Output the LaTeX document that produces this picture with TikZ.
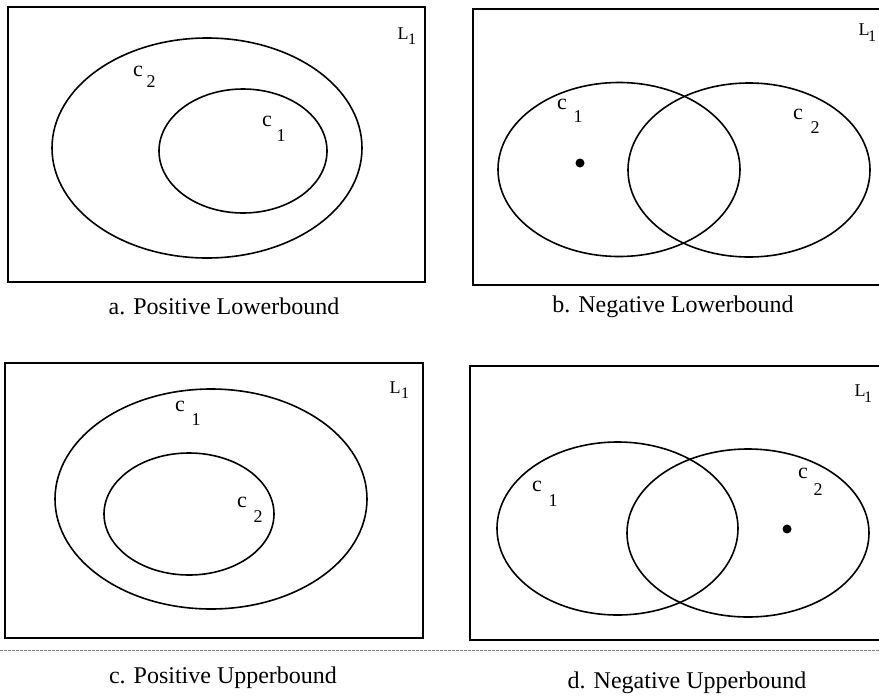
\documentclass[tikz,border=0pt]{standalone}
\usepackage{fontspec}
\setmainfont{Liberation Serif}
\begin{document}
\begin{tikzpicture}[x=1pt,y=-1pt,
  boxframe/.style={line width=1.9pt},
  setline/.style={line width=1.6pt},
  lab/.style={inner sep=0pt,font=\fontsize{22}{22}\selectfont},
  subn/.style={inner sep=0pt,font=\fontsize{18}{18}\selectfont},
  lbig/.style={inner sep=0pt,font=\fontsize{18}{18}\selectfont},
  lsub/.style={inner sep=0pt,font=\fontsize{16}{16}\selectfont},
  captxt/.style={inner sep=0pt,font=\fontsize{24}{24}\selectfont},
  dotmark/.style={fill,circle,inner sep=0pt,minimum size=9pt}]
\useasboundingbox (0,0) rectangle (879,697);
\clip (0,0) rectangle (879,697);
% panel a
\draw[boxframe] (8,7) rectangle (425,282);
\draw[setline] (207,148) ellipse [x radius=155, y radius=110];
\draw[setline] (243,151) ellipse [x radius=84, y radius=62];
\node[lab] (a2c) at (138,71) {c};
\node[subn] (a2n) at (151,82) {2};
\node[lab] (a1c) at (267,121) {c};
\node[subn] (a1n) at (281,136) {1};
\node[lbig] (aL) at (403,34) {L};
\node[lsub] (aLn) at (412,39) {1};
\node[captxt] (capa) at (224,306) {a. Positive Lowerbound};
% panel b
\draw[boxframe] (473,9) rectangle (900,285);
\draw[setline] (619,169.5) ellipse [x radius=121, y radius=87];
\draw[setline] (749,170) ellipse [x radius=121, y radius=87];
\node[dotmark] (bdot) at (580,163) {};
\node[lab] (b1c) at (562,104) {c};
\node[subn] (b1n) at (578,117) {1};
\node[lab] (b2c) at (798,114) {c};
\node[subn] (b2n) at (815,128) {2};
\node[lbig] (bL) at (864,30) {L};
\node[lsub] (bLn) at (872,36) {1};
\node[captxt] (capb) at (673,307) {b. Negative Lowerbound};
% panel c
\draw[boxframe] (5,363) rectangle (423,638);
\draw[setline] (211,499) ellipse [x radius=156, y radius=110];
\draw[setline] (189,514) ellipse [x radius=85, y radius=61];
\node[lab] (c1c) at (180,406) {c};
\node[subn] (c1n) at (196,420) {1};
\node[lab] (c2c) at (242,502) {c};
\node[subn] (c2n) at (258,517) {2};
\node[lbig] (cL) at (395,388) {L};
\node[lsub] (cLn) at (405,393) {1};
% panel d
\draw[boxframe] (470,366) rectangle (900,640);
\draw[setline] (617.5,528.5) ellipse [x radius=120.5, y radius=86.5];
\draw[setline] (748,533) ellipse [x radius=121, y radius=84];
\node[dotmark] (ddot) at (787,529) {};
\node[lab] (d1c) at (537,486) {c};
\node[subn] (d1n) at (553,501) {1};
\node[lab] (d2c) at (803,473) {c};
\node[subn] (d2n) at (818,490) {2};
\node[lbig] (dL) at (860,391) {L};
\node[lsub] (dLn) at (868,397) {1};
% separator
\coordinate (sepl) at (0,650);
\coordinate (sepr) at (879,650);
\draw[gray, line width=0.6pt, dash pattern=on 3pt off 1pt] (sepl) -- (sepr);
\node[captxt] (capc) at (223,678) {c. Positive Upperbound};
\node[captxt] (capd) at (687,683) {d. Negative Upperbound};
\end{tikzpicture}
\end{document}
